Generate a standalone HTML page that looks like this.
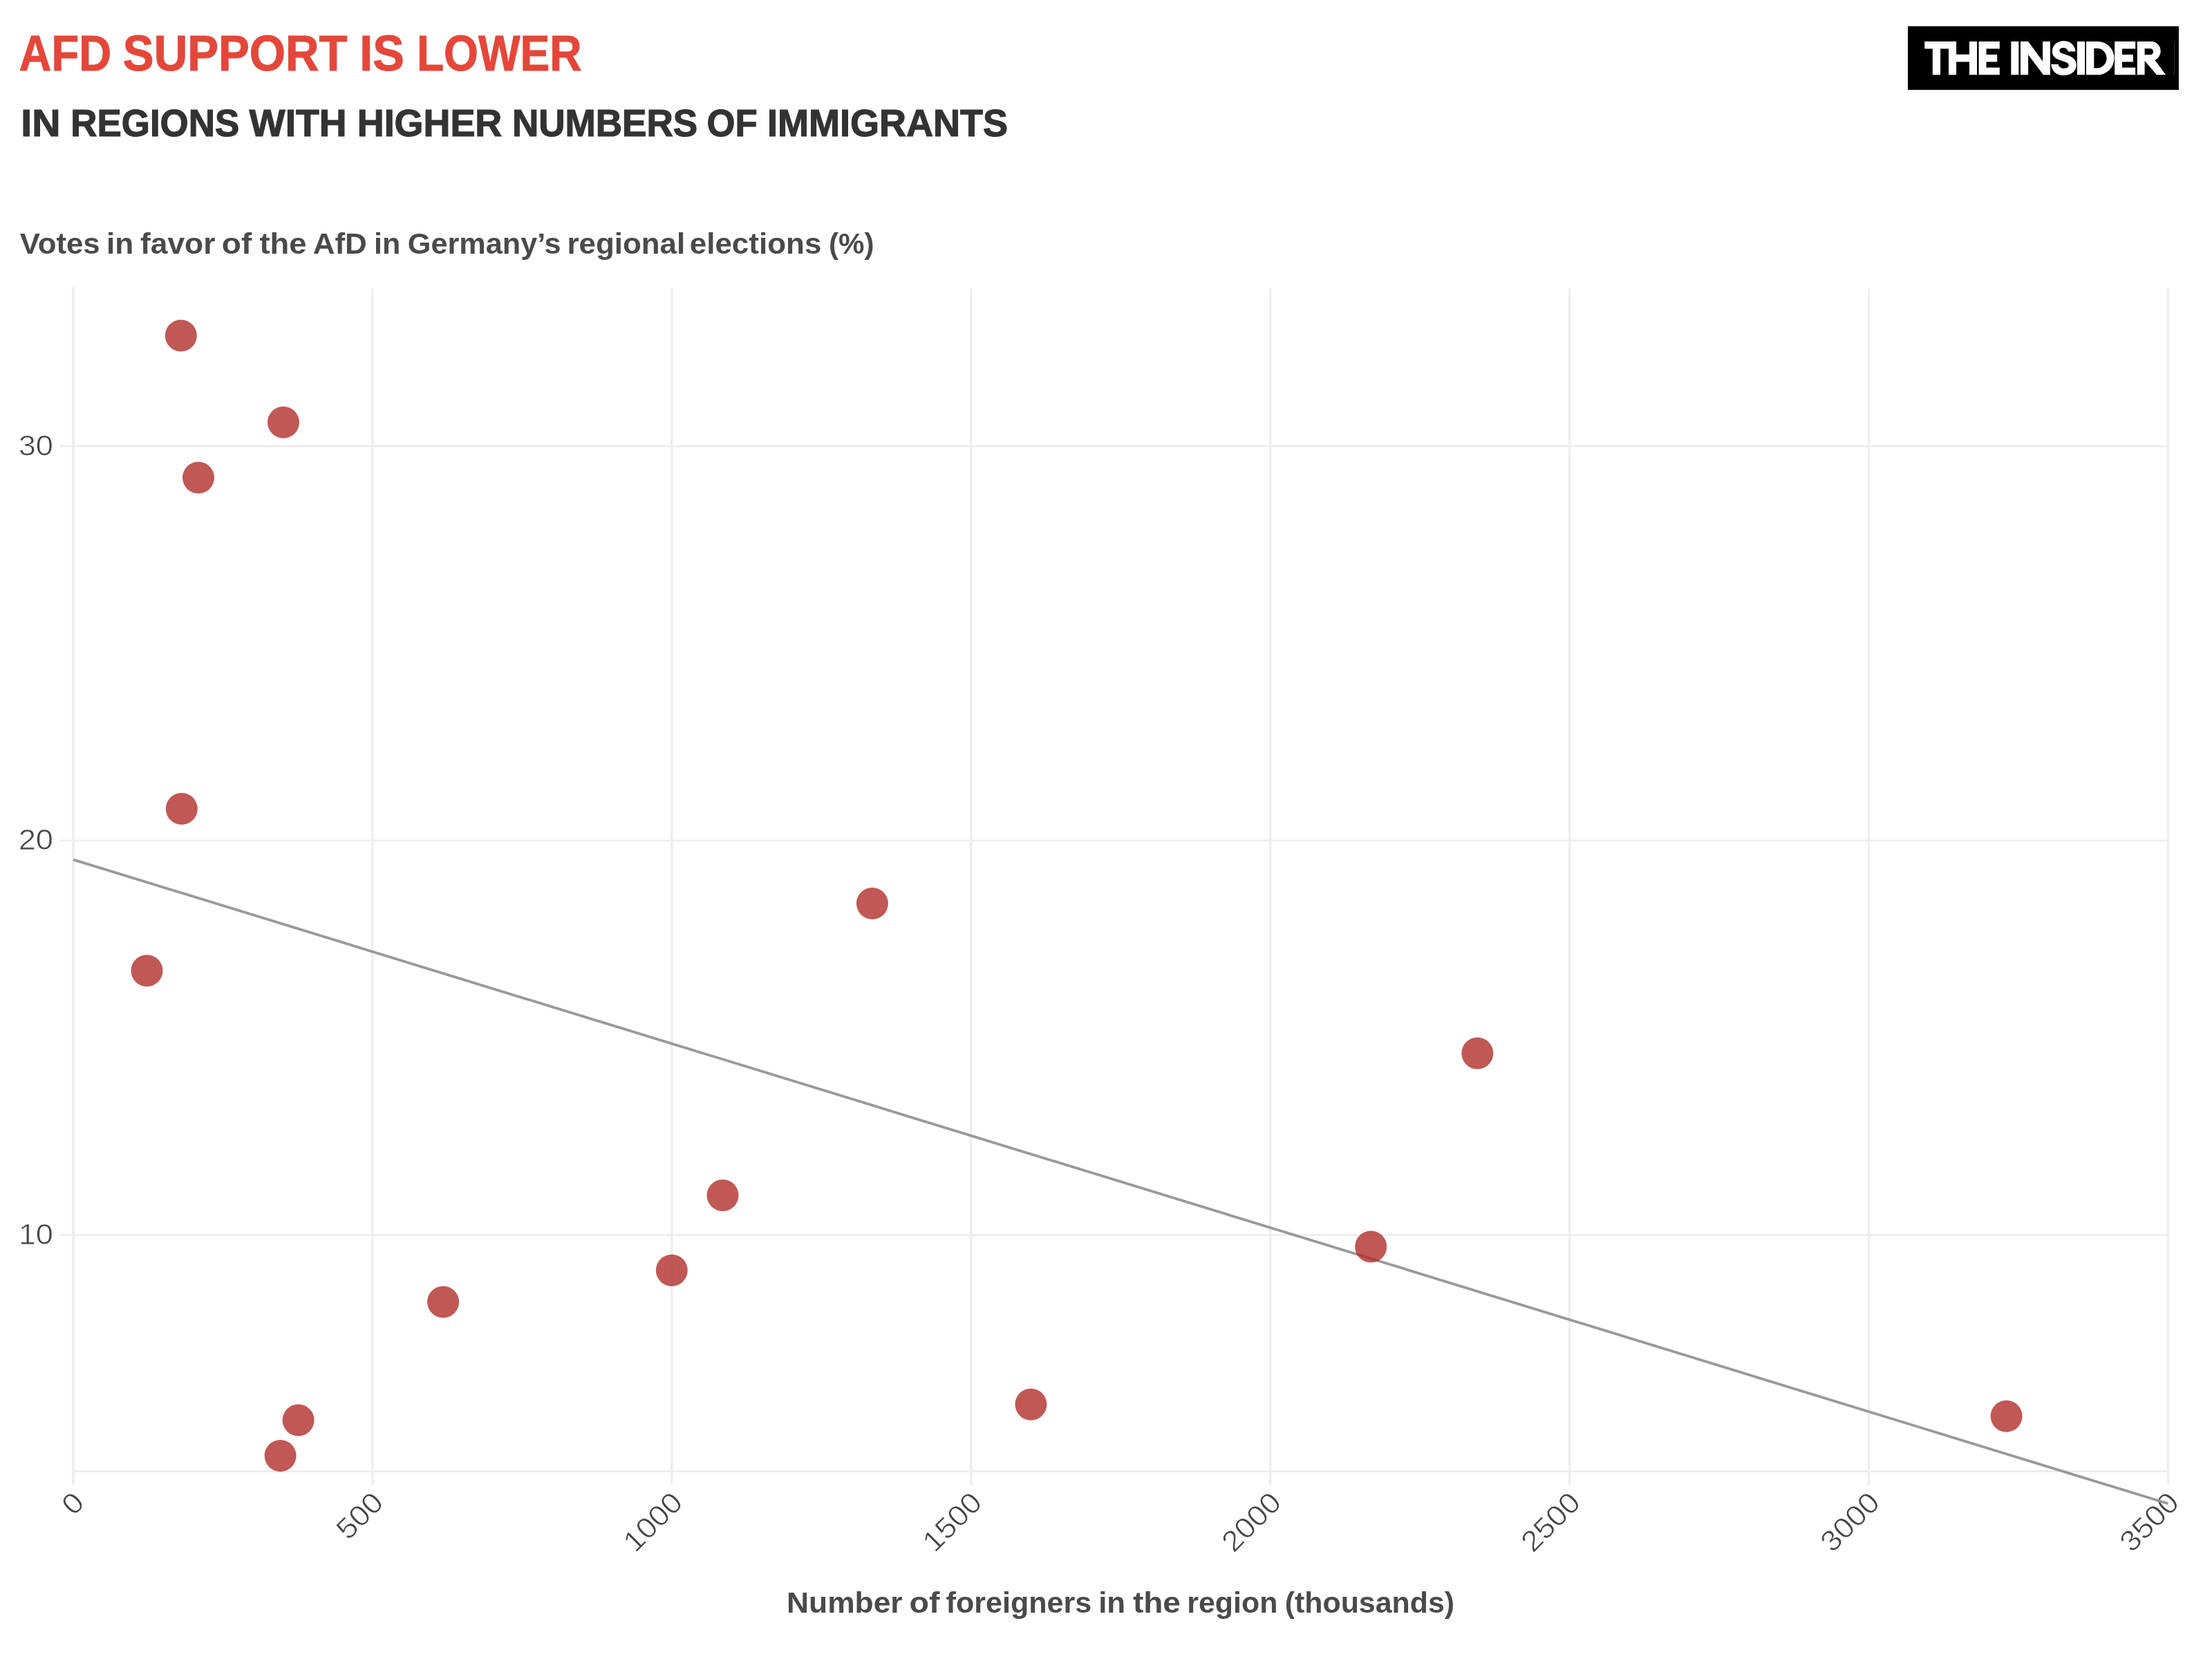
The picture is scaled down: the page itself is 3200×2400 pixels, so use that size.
<!DOCTYPE html>
<html><head><meta charset="utf-8"><title>AfD support chart</title>
<style>html,body{margin:0;padding:0;background:#fff;}body{width:3200px;height:2400px;overflow:hidden;}svg{display:block;will-change:transform;}</style>
</head><body>
<svg width="3200" height="2400" viewBox="0 0 3200 2400">
<rect x="0" y="0" width="3200" height="2400" fill="#ffffff"/>
<rect x="87" y="644.00" width="3051" height="3" fill="#eeeeee"/>
<rect x="87" y="1214.50" width="3051" height="3" fill="#eeeeee"/>
<rect x="87" y="1785.00" width="3051" height="3" fill="#eeeeee"/>
<rect x="104" y="2127" width="3034" height="3" fill="#eeeeee"/>
<rect x="104" y="415" width="4" height="1733" fill="#eeeeee"/>
<rect x="537.18" y="417" width="3.5" height="1731" fill="#eeeeee"/>
<rect x="970.11" y="417" width="3.5" height="1731" fill="#eeeeee"/>
<rect x="1403.04" y="417" width="3.5" height="1731" fill="#eeeeee"/>
<rect x="1835.96" y="417" width="3.5" height="1731" fill="#eeeeee"/>
<rect x="2268.89" y="417" width="3.5" height="1731" fill="#eeeeee"/>
<rect x="2701.82" y="417" width="3.5" height="1731" fill="#eeeeee"/>
<rect x="3134.75" y="417" width="3.5" height="1731" fill="#eeeeee"/>
<text transform="translate(77,658.7) scale(1.077,1)" text-anchor="end" font-family="Liberation Sans, sans-serif" font-size="42" fill="#444444" stroke="#fff" stroke-width="0.7">30</text>
<text transform="translate(77,1229.2) scale(1.077,1)" text-anchor="end" font-family="Liberation Sans, sans-serif" font-size="42" fill="#444444" stroke="#fff" stroke-width="0.7">20</text>
<text transform="translate(77,1799.7) scale(1.077,1)" text-anchor="end" font-family="Liberation Sans, sans-serif" font-size="42" fill="#444444" stroke="#fff" stroke-width="0.7">10</text>
<text transform="translate(114.0,2166.0) rotate(-45) scale(1.077,1)" text-anchor="end" dy="14.5" font-family="Liberation Sans, sans-serif" font-size="42" fill="#444444" stroke="#fff" stroke-width="0.7">0</text>
<text transform="translate(546.9,2166.0) rotate(-45) scale(1.077,1)" text-anchor="end" dy="14.5" font-family="Liberation Sans, sans-serif" font-size="42" fill="#444444" stroke="#fff" stroke-width="0.7">500</text>
<text transform="translate(979.9,2166.0) rotate(-45) scale(1.077,1)" text-anchor="end" dy="14.5" font-family="Liberation Sans, sans-serif" font-size="42" fill="#444444" stroke="#fff" stroke-width="0.7">1000</text>
<text transform="translate(1412.8,2166.0) rotate(-45) scale(1.077,1)" text-anchor="end" dy="14.5" font-family="Liberation Sans, sans-serif" font-size="42" fill="#444444" stroke="#fff" stroke-width="0.7">1500</text>
<text transform="translate(1845.7,2166.0) rotate(-45) scale(1.077,1)" text-anchor="end" dy="14.5" font-family="Liberation Sans, sans-serif" font-size="42" fill="#444444" stroke="#fff" stroke-width="0.7">2000</text>
<text transform="translate(2278.6,2166.0) rotate(-45) scale(1.077,1)" text-anchor="end" dy="14.5" font-family="Liberation Sans, sans-serif" font-size="42" fill="#444444" stroke="#fff" stroke-width="0.7">2500</text>
<text transform="translate(2711.6,2166.0) rotate(-45) scale(1.077,1)" text-anchor="end" dy="14.5" font-family="Liberation Sans, sans-serif" font-size="42" fill="#444444" stroke="#fff" stroke-width="0.7">3000</text>
<text transform="translate(3144.5,2166.0) rotate(-45) scale(1.077,1)" text-anchor="end" dy="14.5" font-family="Liberation Sans, sans-serif" font-size="42" fill="#444444" stroke="#fff" stroke-width="0.7">3500</text>
<line x1="106.0" y1="1243.6" x2="3136.5" y2="2175.3" stroke="#999999" stroke-width="3.8"/>
<circle cx="261.8" cy="485.6" r="23" fill="#b02e2a" fill-opacity="0.8"/>
<circle cx="410" cy="611" r="23" fill="#b02e2a" fill-opacity="0.8"/>
<circle cx="287" cy="691" r="23" fill="#b02e2a" fill-opacity="0.8"/>
<circle cx="262.8" cy="1170.1" r="23" fill="#b02e2a" fill-opacity="0.8"/>
<circle cx="212.5" cy="1404.2" r="23" fill="#b02e2a" fill-opacity="0.8"/>
<circle cx="1261.9" cy="1307" r="23" fill="#b02e2a" fill-opacity="0.8"/>
<circle cx="2137.3" cy="1523.8" r="23" fill="#b02e2a" fill-opacity="0.8"/>
<circle cx="1045.5" cy="1729.3" r="23" fill="#b02e2a" fill-opacity="0.8"/>
<circle cx="1983.2" cy="1803.6" r="23" fill="#b02e2a" fill-opacity="0.8"/>
<circle cx="971.8" cy="1837.8" r="23" fill="#b02e2a" fill-opacity="0.8"/>
<circle cx="641.1" cy="1883.4" r="23" fill="#b02e2a" fill-opacity="0.8"/>
<circle cx="431.6" cy="2054.5" r="23" fill="#b02e2a" fill-opacity="0.8"/>
<circle cx="405.6" cy="2106" r="23" fill="#b02e2a" fill-opacity="0.8"/>
<circle cx="1491.4" cy="2031.7" r="23" fill="#b02e2a" fill-opacity="0.8"/>
<circle cx="2902.6" cy="2048.8" r="23" fill="#b02e2a" fill-opacity="0.8"/>
<g font-family="Liberation Sans, sans-serif" font-weight="bold" font-size="71.8" fill="#e4473a" stroke="#e4473a" stroke-width="1" lengthAdjust="spacingAndGlyphs"><text x="27.59" y="102" textLength="133.63" lengthAdjust="spacingAndGlyphs">AFD</text><text x="177.83" y="102" textLength="324.74" lengthAdjust="spacingAndGlyphs">SUPPORT</text><text x="520.29" y="102" textLength="64.67" lengthAdjust="spacingAndGlyphs">IS</text><text x="602.93" y="102" textLength="238.66" lengthAdjust="spacingAndGlyphs">LOWER</text></g>
<g font-family="Liberation Sans, sans-serif" font-weight="bold" font-size="56.4" fill="#333333" stroke="#333333" stroke-width="1.2"><text x="30.26" y="196.9" textLength="57.2" lengthAdjust="spacingAndGlyphs">IN</text><text x="102.18" y="196.9" textLength="244.13" lengthAdjust="spacingAndGlyphs">REGIONS</text><text x="360.58" y="196.9" textLength="141.02" lengthAdjust="spacingAndGlyphs">WITH</text><text x="516.73" y="196.9" textLength="209.57" lengthAdjust="spacingAndGlyphs">HIGHER</text><text x="740.88" y="196.9" textLength="268.25" lengthAdjust="spacingAndGlyphs">NUMBERS</text><text x="1022.43" y="196.9" textLength="73.2" lengthAdjust="spacingAndGlyphs">OF</text><text x="1110.03" y="196.9" textLength="347.99" lengthAdjust="spacingAndGlyphs">IMMIGRANTS</text></g>
<g font-family="Liberation Sans, sans-serif" font-weight="bold" font-size="43.2" fill="#4a4a4a"><text x="28.7" y="367" textLength="116.03" lengthAdjust="spacingAndGlyphs">Votes</text><text x="154.03" y="367" textLength="39.32" lengthAdjust="spacingAndGlyphs">in</text><text x="203.07" y="367" textLength="108.35" lengthAdjust="spacingAndGlyphs">favor</text><text x="320.77" y="367" textLength="43.48" lengthAdjust="spacingAndGlyphs">of</text><text x="375.4" y="367" textLength="68.17" lengthAdjust="spacingAndGlyphs">the</text><text x="452.68" y="367" textLength="78.22" lengthAdjust="spacingAndGlyphs">AfD</text><text x="541.11" y="367" textLength="38.27" lengthAdjust="spacingAndGlyphs">in</text><text x="589.8" y="367" textLength="221.86" lengthAdjust="spacingAndGlyphs">Germany’s</text><text x="820.45" y="367" textLength="170.68" lengthAdjust="spacingAndGlyphs">regional</text><text x="997.76" y="367" textLength="190.58" lengthAdjust="spacingAndGlyphs">elections</text><text x="1198.95" y="367" textLength="65.57" lengthAdjust="spacingAndGlyphs">(%)</text></g>
<g font-family="Liberation Sans, sans-serif" font-weight="bold" font-size="43.2" fill="#4a4a4a"><text x="1138.12" y="2333" textLength="167.47" lengthAdjust="spacingAndGlyphs">Number</text><text x="1315.55" y="2333" textLength="43.9" lengthAdjust="spacingAndGlyphs">of</text><text x="1368.6" y="2333" textLength="210.7" lengthAdjust="spacingAndGlyphs">foreigners</text><text x="1589.15" y="2333" textLength="38.97" lengthAdjust="spacingAndGlyphs">in</text><text x="1638.9" y="2333" textLength="69.1" lengthAdjust="spacingAndGlyphs">the</text><text x="1717.32" y="2333" textLength="131.03" lengthAdjust="spacingAndGlyphs">region</text><text x="1858.71" y="2333" textLength="245.38" lengthAdjust="spacingAndGlyphs">(thousands)</text></g>
<rect x="2760" y="38" width="392" height="92" fill="#000000"/>
<path fill="#ffffff" fill-rule="nonzero" d="M2784.20,60.00h45.90v10.60h-45.90z M2795.80,60.00h11.30v48.30h-11.30z M2819.00,60.00h11.10v48.30h-11.10z M2849.00,60.00h11.00v48.30h-11.00z M2829.00,78.80h21.00v10.70h-21.00z M2862.6,60.0H2892.8V70.4H2873.5V79H2889.2V89.5H2873.5V97.8H2892.8V108.3H2862.6Z M2909.30,60.00h11.00v48.30h-11.00z M2923,108.3V60.0H2934.1L2955.1,88.7V60.0H2965.9V108.3H2956L2934.1,79.2V108.3Z M3004.90,60.00h11.20v48.30h-11.20z M3018,60.0H3034.5A24,24.15 0 0 1 3034.5,108.3H3018Z M3029.3,70V98.5H3034A13.6,14.25 0 0 0 3034,70Z M3059.2,60.0H3089.2V70.4H3070V79H3085.9V89.5H3070V97.8H3089.2V108.3H3059.2Z M3091.8,108.3V60.0H3112A13.6,14 0 0 1 3112,88H3102.6V108.3Z M3102.6,70.2V79.2H3110.5A4.6,4.5 0 0 0 3110.5,70.2Z M3102.6,88L3116.8,86L3133.1,108.3H3119.9Z"/>
<path fill="#fff" d="M3002.6,74.4 C3001.5,65 2994.5,59.2 2985.6,59.2 C2975.5,59.2 2968.9,65.5 2968.9,74.6 C2968.9,82 2974.5,85.3 2980,87 L2987.5,89.6 C2991,90.8 2992.8,92.3 2992.8,94.8 C2992.8,97.2 2990,98.9 2985.6,98.9 C2981.5,98.9 2978.3,96.5 2977.7,92.9 L2967.2,92.9 C2967.8,102.5 2975,109.1 2985.6,109.1 C2996.5,109.1 3003.8,102.5 3003.8,94 C3003.8,86.5 2998.5,82.5 2991.5,80 L2984,77.5 C2980.8,76.4 2979.4,75 2979.4,72.9 C2979.4,70.6 2981.8,69.2 2985,69.2 C2988.2,69.2 2991.2,71 2991.7,74.4 Z"/>
<rect x="3145" y="60" width="0.8" height="48" fill="#444"/>
</svg>
</body></html>
